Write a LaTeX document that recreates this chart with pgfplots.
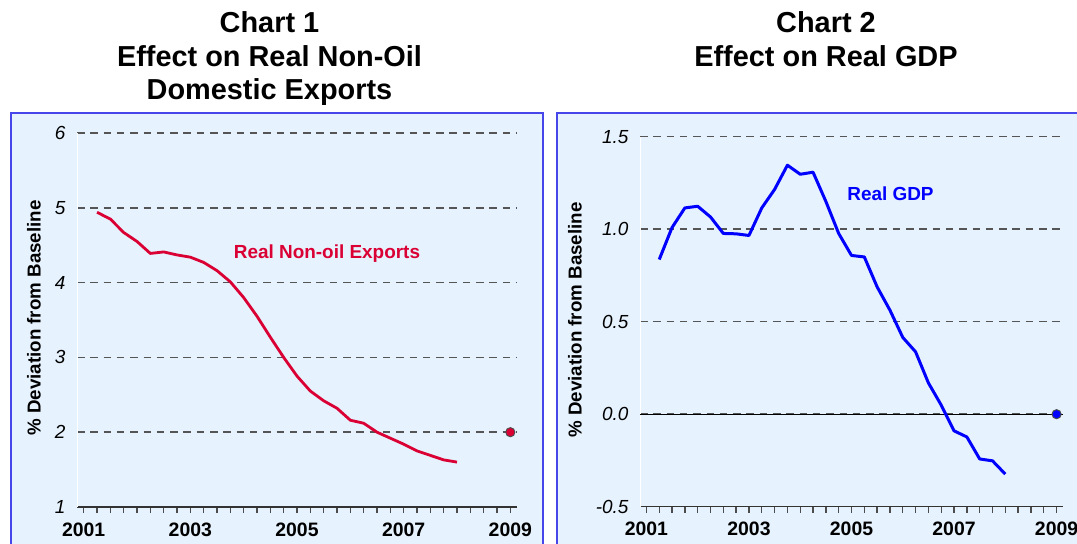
\documentclass[border=0pt]{standalone}
\usepackage{fontspec}
\setmainfont{Liberation Sans}
\usepackage{pgfplots}
\pgfplotsset{compat=1.18}
\definecolor{bgblue}{RGB}{230,242,253}
\definecolor{frameblue}{RGB}{70,70,235}
\definecolor{exred}{RGB}{218,0,52}
\definecolor{gdpblue}{RGB}{0,0,255}
\definecolor{gridgray}{RGB}{85,85,85}

\pgfplotsset{
  panel/.style={
    scale only axis,
    xmin=2000.875, xmax=2009.125,
    axis x line*=bottom, axis y line*=left,
    x axis line style={draw=black!80, line width=1.2bp, -},
    y axis line style={draw=white, line width=1bp, -},
    xtick={2001,2003,2005,2007,2009},
    xticklabels={2001,2003,2005,2007,2009},
    minor x tick num=7,
    tick align=outside,
    major tick length=6bp, minor tick length=6bp,
    xtick style={draw=black!70, line width=1.3bp},
    minor tick style={draw=black!70, line width=1.3bp},
    ytick style={draw=none},
    ymajorgrids,
    major grid style={dash pattern=on 7.5bp off 5.8bp, draw=gridgray, line width=1.5bp},
    xticklabel style={font=\fontsize{19.5}{21}\selectfont\bfseries, yshift=-6bp},
    yticklabel style={font=\fontsize{19}{21}\selectfont\itshape, xshift=-2bp},
    /pgf/number format/assume math mode=true,
  }
}

\begin{document}
\begin{tikzpicture}
\useasboundingbox (0bp,0bp) rectangle (1077bp,544bp);
\clip (0bp,0bp) rectangle (1077bp,544bp);

\begin{scope}[x=1bp,y=1bp]
% panels
\fill[bgblue] (11,-10) rectangle (543,431);
\draw[frameblue, line width=1.8bp] (11,-10) -- (11,431) -- (543,431) -- (543,-10);
\fill[bgblue] (557,-10) rectangle (1090,431);
\draw[frameblue, line width=1.8bp] (557,-10) -- (557,431) -- (1090,431);

% titles
\node[anchor=base, font=\fontsize{29}{33}\selectfont\bfseries] at (269.5,511) {Chart 1};
\node[anchor=base, font=\fontsize{29}{33}\selectfont\bfseries] at (269.5,477) {Effect on Real Non-Oil};
\node[anchor=base, font=\fontsize{29}{33}\selectfont\bfseries] at (269.5,444) {Domestic Exports};
\node[anchor=base, font=\fontsize{29}{33}\selectfont\bfseries] at (826,511) {Chart 2};
\node[anchor=base, font=\fontsize{29}{33}\selectfont\bfseries] at (826,477) {Effect on Real GDP};

% y labels
\node[rotate=90, font=\fontsize{18.8}{21}\selectfont\bfseries] at (34,226) {\% Deviation from Baseline};
\node[rotate=90, font=\fontsize{18.8}{21}\selectfont\bfseries] at (575,224) {\% Deviation from Baseline};

% series labels
\node[font=\fontsize{19}{22}\selectfont\bfseries, text=exred] at (327,290) {Real Non-oil Exports};
\node[font=\fontsize{19}{22}\selectfont\bfseries, text=gdpblue] at (890.5,350) {Real GDP};
\end{scope}

% Chart 1
\begin{axis}[panel, at={(77bp,37bp)}, anchor=south west, width=440bp, height=374bp,
  ymin=1, ymax=6, ytick={1,2,3,4,5,6}]
\pgfplotsinvokeforeach{1,2,3,4,5,6}{\draw[black!75, line width=1.4bp] (axis cs:2000.875,#1) -- ++(-10bp,0bp);}
\addplot[exred, line width=2.8bp, line join=round] coordinates {
(2001.25,4.94) (2001.5,4.85) (2001.75,4.67) (2002.0,4.55) (2002.25,4.39)
(2002.5,4.41) (2002.75,4.37) (2003.0,4.34) (2003.25,4.27) (2003.5,4.16)
(2003.75,4.01) (2004.0,3.80) (2004.25,3.55) (2004.5,3.27) (2004.75,3.00)
(2005.0,2.75) (2005.25,2.55) (2005.5,2.42) (2005.75,2.32) (2006.0,2.16)
(2006.25,2.12) (2006.5,2.00) (2006.75,1.92) (2007.0,1.84) (2007.25,1.75)
(2007.5,1.69) (2007.75,1.63) (2008.0,1.60)};
\addplot[only marks, mark=*, mark size=4.6bp, mark options={fill=exred, draw=black!70, line width=0.9bp}] coordinates {(2009,2)};
\end{axis}

% Chart 2
\begin{axis}[panel, at={(640bp,37.3bp)}, anchor=south west, width=423bp, height=370bp,
  ymin=-0.5, ymax=1.5, ytick={-0.5,0,0.5,1,1.5},
  yticklabel style={/pgf/number format/.cd, fixed, fixed zerofill, precision=1}]
\pgfplotsinvokeforeach{-0.5,0,0.5,1,1.5}{\draw[black!75, line width=1.4bp] (axis cs:2000.875,#1) -- ++(-10bp,0bp);}
\draw[black, line width=1bp] (axis cs:2000.875,0) -- (axis cs:2009.125,0);
\addplot[gdpblue, line width=3bp, line join=round] coordinates {
(2001.25,0.836) (2001.5,1.009) (2001.75,1.115) (2002.0,1.124) (2002.25,1.066)
(2002.5,0.977) (2002.75,0.975) (2003.0,0.966) (2003.25,1.115) (2003.5,1.215)
(2003.75,1.346) (2004.0,1.297) (2004.25,1.308) (2004.5,1.15) (2004.75,0.977)
(2005.0,0.858) (2005.25,0.850) (2005.5,0.688) (2005.75,0.562) (2006.0,0.415)
(2006.25,0.337) (2006.5,0.169) (2006.75,0.049) (2007.0,-0.090) (2007.25,-0.123)
(2007.5,-0.242) (2007.75,-0.252) (2008.0,-0.324)};
\addplot[only marks, mark=*, mark size=4.6bp, mark options={fill=gdpblue, draw=black!70, line width=0.9bp}] coordinates {(2009,0)};
\end{axis}

\end{tikzpicture}
\end{document}
